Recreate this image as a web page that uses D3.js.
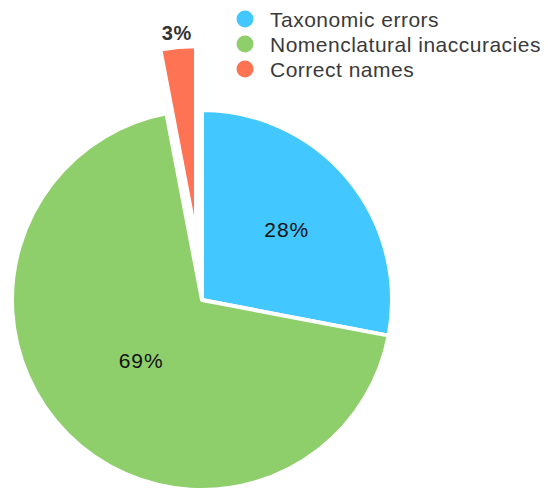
<!DOCTYPE html>
<html>
<head>
<meta charset="utf-8">
<script src="https://cdn.jsdelivr.net/npm/d3@7"></script>
<style>
  body { margin: 0; background: #fff; }
  svg { display: block; font-family: "Liberation Sans", Arial, sans-serif; }
</style>
</head>
<body>
<div id="chart"></div>
<script>
// data
const categories = ["Taxonomic errors", "Nomenclatural inaccuracies", "Correct names"];
const shares = [28, 69, 3];
const colors = ["#42c8fe", "#8ecf6c", "#fe7354"];

const width = 548, height = 491;
const cx = 202, cy = 300, radius = 190;
// how far each slice is pulled out, and where its label sits
const pullOut = [0, 0, 64];
const labelR = [110, 86, 268];

const svg = d3.select("#chart")
  .append("svg")
    .attr("width", width)
    .attr("height", height);

const pie = d3.pie().sort(null).value(d => d);
const arcs = pie(shares);

const arc = d3.arc().innerRadius(0).outerRadius(radius);

const g = svg.append("g").attr("transform", `translate(${cx},${cy})`);

const mid = d => (d.startAngle + d.endAngle) / 2;

g.selectAll("path")
  .data(arcs)
  .enter()
  .append("path")
    .attr("d", arc)
    .attr("transform", (d, i) => {
      const a = mid(d);
      return `translate(${Math.sin(a) * pullOut[i]},${-Math.cos(a) * pullOut[i]})`;
    })
    .attr("fill", (d, i) => colors[i])
    .attr("stroke", "#fff")
    .attr("stroke-width", 4)
    .attr("stroke-linejoin", "round");

g.selectAll("text.pct")
  .data(arcs)
  .enter()
  .append("text")
    .attr("class", "pct")
    .attr("x", (d, i) => Math.sin(mid(d)) * labelR[i])
    .attr("y", (d, i) => -Math.cos(mid(d)) * labelR[i])
    .attr("dy", "0.36em")
    .attr("text-anchor", "middle")
    .attr("font-size", (d, i) => i === 2 ? 20 : 21)
    .attr("letter-spacing", (d, i) => i === 2 ? 0.5 : 1)
    .attr("font-weight", (d, i) => i === 2 ? "bold" : "normal")
    .attr("fill", (d, i) => i === 2 ? "#333" : "#111")
    .text(d => d.data + "%");

// legend
const legend = svg.append("g").attr("transform", "translate(245,19)");

const rows = legend.selectAll("g")
  .data(categories)
  .enter()
  .append("g")
    .attr("transform", (d, i) => `translate(0,${i * 25})`);

rows.append("circle")
  .attr("r", 8.5)
  .attr("fill", (d, i) => colors[i]);

rows.append("text")
  .attr("x", 25)
  .attr("dy", "0.36em")
  .attr("font-size", 21)
  .attr("letter-spacing", 0.5)
  .attr("fill", "#3a3a3a")
  .text(d => d);
</script>
</body>
</html>
